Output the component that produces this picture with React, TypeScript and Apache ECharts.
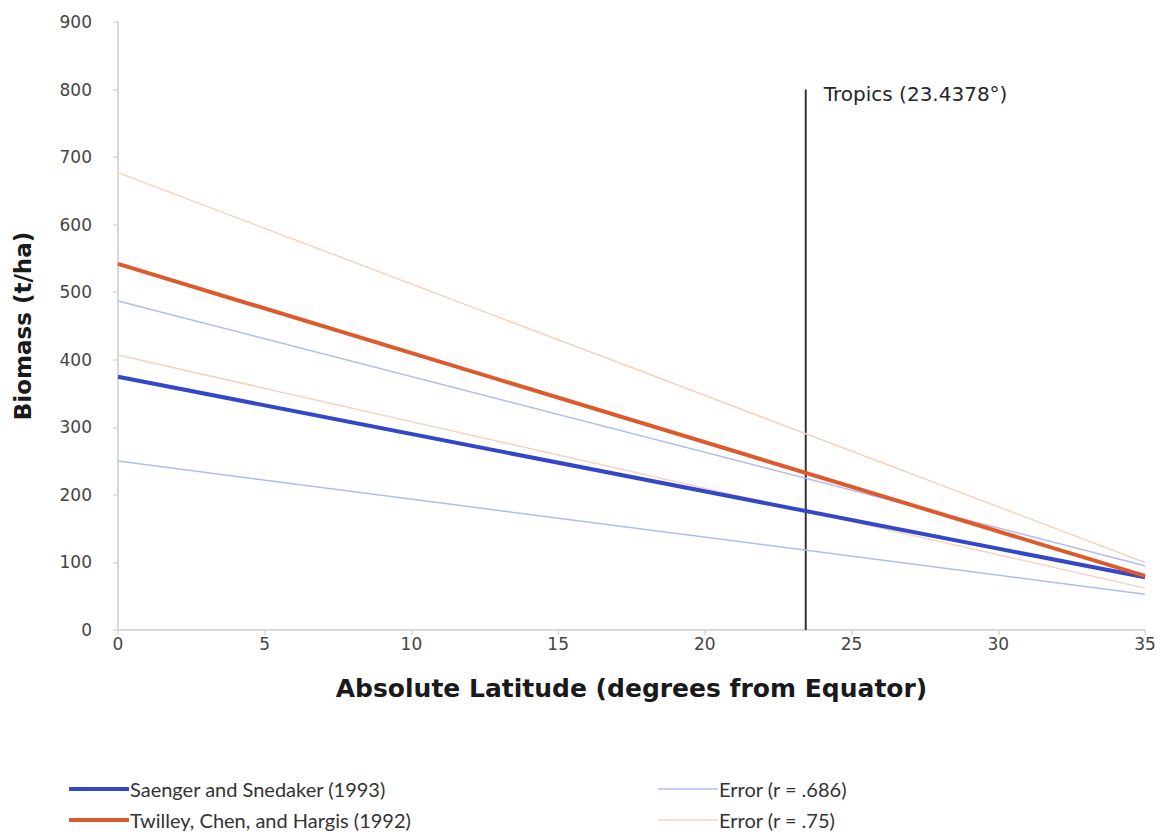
import React, { useEffect, useRef } from "react";
import * as echarts from "echarts";

const latitudes = [0, 35];
const saenger = [375, 78];
const saengerErrUpper = [487, 95];
const saengerErrLower = [250, 53];
const twilley = [542, 80];
const twilleyErrUpper = [677, 100];
const twilleyErrLower = [407, 62];
const tropicsLat = 23.4378;
const tropicsSpan = [0, 800];
const xTicks = { min: 0, max: 35, interval: 5 };
const yTicks = { min: 0, max: 900, interval: 100 };

const NAMES = {
  saenger: "Saenger and Snedaker (1993)",
  twilley: "Twilley, Chen, and Hargis (1992)",
  errS: "Error (r = .686)",
  errT: "Error (r = .75)",
};

const BLUE = "#3447c9";
const ORANGE = "#de5a2a";
const LIGHT_BLUE = "#b2bbf0";
const LIGHT_ORANGE = "#f1d4c2";

const pairs = (ys: number[]) => latitudes.map((x, i) => [x, ys[i]]);

export default function App() {
  const ref = useRef<HTMLDivElement>(null);
  useEffect(() => {
    if (!ref.current) return;
    const chart = echarts.init(ref.current, undefined, { renderer: "svg" });
    const font = "'DejaVu Sans', sans-serif";
    const legendFont = "Lato, sans-serif";
    const lineSeries = (name: string, ys: number[], color: string, width: number, z: number) => ({
      name,
      type: "line",
      data: pairs(ys),
      symbol: "none",
      lineStyle: { color, width },
      itemStyle: { color },
      z,
      silent: true,
    });
    const legend = (name: string, left: number, top: number, thick: boolean) => ({
      left,
      top,
      itemWidth: 60,
      itemHeight: 20,
      icon: thick ? "path://M0,8 L60,8 L60,12 L0,12 Z" : "path://M0,9.3 L60,9.3 L60,10.7 L0,10.7 Z",
      textStyle: { fontFamily: legendFont, fontSize: 20, color: "#333", padding: [0, 0, 0, -4] },
      data: [name],
      selectedMode: false,
    });
    chart.setOption({
      animation: false,
      backgroundColor: "#ffffff",
      grid: { left: 118, right: 21, top: 22, bottom: 208, containLabel: false },
      xAxis: {
        type: "value",
        min: xTicks.min,
        max: xTicks.max,
        interval: xTicks.interval,
        name: "Absolute Latitude (degrees from Equator)",
        nameLocation: "middle",
        nameGap: 46,
        nameTextStyle: { fontFamily: font, fontWeight: "bold", fontSize: 25, color: "#1a1a1a" },
        axisLine: { lineStyle: { color: "#d9d9d9", width: 2 } },
        axisTick: { show: true, length: 5, lineStyle: { color: "#d9d9d9", width: 1.5 } },
        axisLabel: { fontFamily: font, fontSize: 17, color: "#454545", margin: 5 },
        splitLine: { show: false },
      },
      yAxis: {
        type: "value",
        min: yTicks.min,
        max: yTicks.max,
        interval: yTicks.interval,
        name: "Biomass (t/ha)",
        nameLocation: "middle",
        nameGap: 84,
        nameRotate: 90,
        nameTextStyle: { fontFamily: font, fontWeight: "bold", fontSize: 23, color: "#1a1a1a" },
        axisLine: { show: true, lineStyle: { color: "#d9d9d9", width: 2 } },
        axisTick: { show: true, length: 5, lineStyle: { color: "#d9d9d9", width: 1.5 } },
        axisLabel: { fontFamily: font, fontSize: 17, color: "#454545", margin: 26 },
        splitLine: { show: false },
      },
      legend: [
        legend(NAMES.saenger, 64, 774, true),
        legend(NAMES.twilley, 64, 805, true),
        legend(NAMES.errS, 653, 774, false),
        legend(NAMES.errT, 653, 805, false),
      ],
      series: [
        {
          name: "Tropics",
          type: "line",
          data: [
            [tropicsLat, tropicsSpan[0]],
            {
              value: [tropicsLat, tropicsSpan[1]],
              label: {
                show: true,
                position: "right",
                distance: 18,
                offset: [0, 4],
                formatter: "Tropics (23.4378°)",
                fontFamily: font,
                fontSize: 20,
                color: "#262626",
              },
            },
          ],
          symbol: "circle",
          symbolSize: 0.1,
          lineStyle: { color: "#333333", width: 2 },
          itemStyle: { color: "#333333" },
          z: 1,
          silent: true,
        },
        lineSeries(NAMES.errS, saengerErrUpper, LIGHT_BLUE, 1.5, 2),
        lineSeries(NAMES.errS, saengerErrLower, LIGHT_BLUE, 1.5, 2),
        lineSeries(NAMES.errT, twilleyErrUpper, LIGHT_ORANGE, 1.5, 2),
        lineSeries(NAMES.errT, twilleyErrLower, LIGHT_ORANGE, 1.5, 2),
        lineSeries(NAMES.saenger, saenger, BLUE, 4, 3),
        lineSeries(NAMES.twilley, twilley, ORANGE, 4, 3),
      ],
    });
    return () => chart.dispose();
  }, []);
  return (
    <div
      ref={ref}
      style={{ position: "fixed", left: 0, top: 0, width: 1166, height: 838 }}
    />
  );
}
